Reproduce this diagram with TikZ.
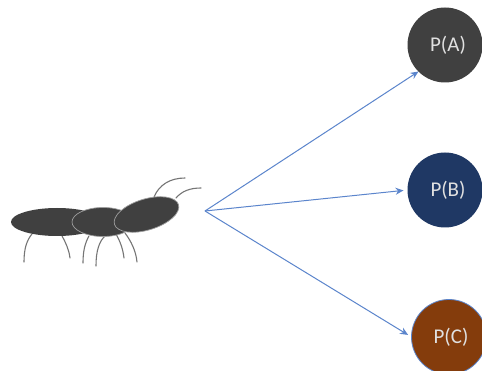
\documentclass[tikz,border=0pt]{standalone}
\usepackage{fontspec}
\setmainfont{Carlito}
\usetikzlibrary{arrows.meta}
\definecolor{darkgrey}{HTML}{404040}
\definecolor{navyb}{HTML}{1F3864}
\definecolor{brownc}{HTML}{843C0C}
\definecolor{linkblue}{HTML}{5B85CC}
\definecolor{limb}{HTML}{757575}
\tikzset{
  prob/.style={circle,minimum size=75pt,inner sep=0pt,outer sep=0pt,text=white!88!black,font=\fontsize{21}{24}\selectfont},
  link/.style={draw=linkblue,line width=1pt,-{Stealth[length=8pt,width=7pt]}},
  leg/.style={draw=limb,line width=1.1pt,line cap=round},
  seg/.style={fill=darkgrey,draw=limb!70,line width=0.7pt}
}
\begin{document}
\begin{tikzpicture}[x=1pt,y=-1pt]
\useasboundingbox (0,0) rectangle (482,371);
\clip (0,0) rectangle (482,371);
\fill[white] (0,0) rectangle (482,371);
\coordinate (hub) at (205,211);
\node[prob,fill=darkgrey] (a) at (445,45) {\hspace{6pt}P(A)};
\node[prob,fill=navyb] (b) at (445,190) {\hspace{6pt}P(B)};
\node[prob,fill=brownc,draw=linkblue,line width=0.8pt] (c) at (449,337) {\hspace{4pt}P(C)};
\draw[link] (hub) -- (a.south west);
\draw[link,shorten >=4pt] (hub) -- (b.west);
\draw[link,shorten >=4pt] (hub) -- (c.west);
% legs
\draw[leg] (24,262) .. controls (24,248) and (27,240) .. (32,234);
\draw[leg] (62,236) .. controls (66,243) and (69,250) .. (70,258);
\draw[leg] (83,263) .. controls (83,251) and (85,243) .. (89,236);
\draw[leg] (96,266) .. controls (96,251) and (99,241) .. (106,235);
\draw[leg] (116,234) .. controls (120,241) and (123,249) .. (124,258);
\draw[leg] (125,233) .. controls (131,241) and (136,251) .. (137,262);
% antennae
\draw[leg] (154,197) .. controls (159,185) and (170,178) .. (185,178);
\draw[leg] (176,198) .. controls (182,191) and (190,188) .. (201,188);
% body
\path[seg,draw=none] (57,222) ellipse [x radius=46,y radius=14];
\path[seg] (103,222) ellipse [x radius=31,y radius=14.5];
\path[seg,rotate around={17:(146.5,214.5)}] (146.5,214.5) ellipse [x radius=33.5,y radius=15.5];
\end{tikzpicture}
\end{document}
